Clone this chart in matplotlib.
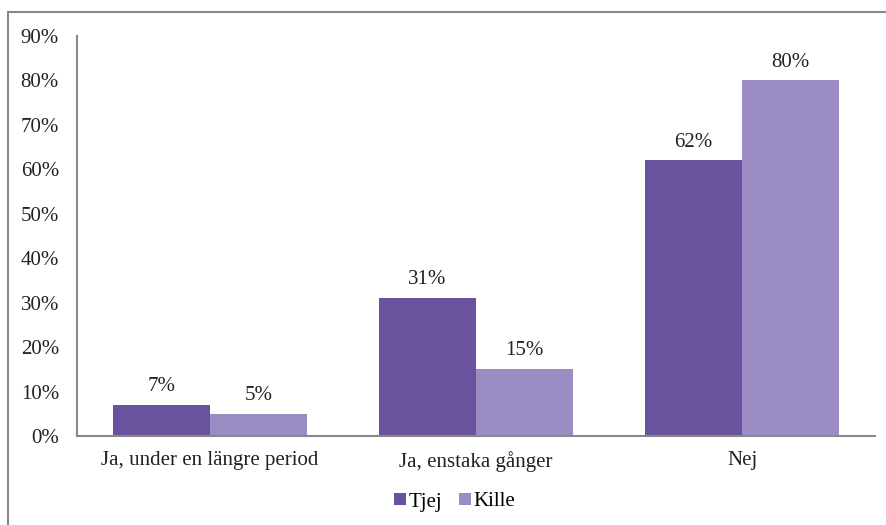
import matplotlib
matplotlib.use("Agg")
import matplotlib.pyplot as plt
import numpy as np
from matplotlib.patches import Rectangle

categories = ["Ja, under en längre period", "Ja, enstaka gånger", "Nej"]
series_names = ["Tjej", "Kille"]
tjej = [7, 31, 62]
kille = [5, 15, 80]
yticks = [0, 10, 20, 30, 40, 50, 60, 70, 80, 90]
colors = ["#6A539E", "#9B8CC3"]

plt.rcParams['font.family'] = ['Liberation Serif', 'DejaVu Serif']

fig = plt.figure(figsize=(8.86, 5.25), dpi=100)
ax = fig.add_axes([77/886, 1-436/525, (875-77)/886, (436-36)/525])

x = np.arange(len(categories))
w = 0.365
for i, (vals, name) in enumerate(zip([tjej, kille], series_names)):
    pos = x + (i - 0.5) * w
    bars = ax.bar(pos, vals, width=w, color=colors[i], label=name, zorder=2)
    for b, v in zip(bars, vals):
        ax.text(b.get_x() + b.get_width()/2, v + 2.0, f"{v}%", ha="center", va="bottom",
                fontsize=15, color="#222222")

ax.set_xlim(-0.5, 2.5)
ax.set_ylim(0, 90)
ax.set_yticks(yticks)
ax.set_yticklabels([f"{t}%" for t in yticks], fontsize=15)
ax.set_xticks(x)
ax.set_xticklabels(categories, fontsize=15)
ax.tick_params(axis='both', length=0, colors="#222222")
ax.tick_params(axis='y', pad=13)
ax.tick_params(axis='x', pad=11)
for s in ["top", "right"]:
    ax.spines[s].set_visible(False)
for s in ["left", "bottom"]:
    ax.spines[s].set_color("#888888")
    ax.spines[s].set_linewidth(1.5)

leg = fig.legend(loc="center", bbox_to_anchor=(455/886, 1-502/525), ncol=2, frameon=False,
                 fontsize=15, handlelength=0.55, handleheight=0.55, handletextpad=0.15,
                 columnspacing=0.8)

fig.patches.append(Rectangle((8/886, -0.1), 1.2, 1 - 12/525 + 0.1, transform=fig.transFigure,
                             fill=False, edgecolor="#888888", linewidth=1.5))

fig.savefig("out.png", dpi=100)
